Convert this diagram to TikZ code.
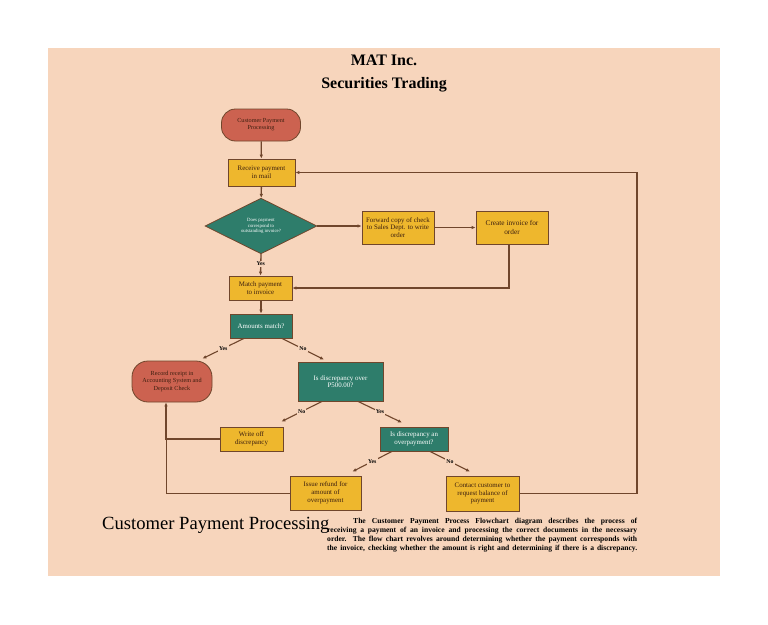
\documentclass[tikz,border=0pt]{standalone}
\usepackage{fontspec}
\setmainfont{Liberation Serif}
\usetikzlibrary{shapes.geometric,arrows.meta,calc}
\definecolor{bg}{RGB}{247,213,188}
\definecolor{yel}{RGB}{238,183,45}
\definecolor{teal2}{RGB}{46,125,107}
\definecolor{redt}{RGB}{204,98,80}
\definecolor{brn}{RGB}{112,70,44}
\definecolor{txt}{RGB}{60,30,15}
\tikzset{
  base/.style={draw=brn, line width=0.8pt, inner sep=1pt, align=center, text=txt},
  proc/.style={base, rectangle, fill=yel, font=\fontsize{6.9}{7.7}\selectfont},
  dec/.style={base, rectangle, fill=teal2, text=white, font=\fontsize{6.9}{7.7}\selectfont},
  term/.style={base, rectangle, fill=redt, font=\fontsize{6.2}{7.2}\selectfont},
  conn/.style={draw=brn, line width=1.3pt, -{Latex[length=4pt,width=3.5pt]}},
  diag/.style={draw=brn, line width=1.1pt, -{Latex[length=4pt,width=3.5pt]}},
  lbl/.style={font=\fontsize{5.8}{6.5}\selectfont\bfseries, fill=bg, inner sep=1.2pt, text=black},
}
\begin{document}
\begin{tikzpicture}[x=1pt,y=-1pt]
\useasboundingbox (0,0) rectangle (768,624);
\fill[bg] (48,48) rectangle (720,576);

\node[font=\fontsize{16}{18}\selectfont\bfseries] (t1) at (384,60) {MAT Inc.};
\node[font=\fontsize{16}{18}\selectfont\bfseries] (t2) at (384,85) {Securities Trading};

\node[term, minimum width=79pt, minimum height=32pt, rounded corners=14pt] (start) at (261,125) {Customer Payment\\Processing};
\node[proc, minimum width=67pt, minimum height=27pt] (recv) at (261.5,172.5) {Receive payment\\in mail};
\node[base, diamond, fill=teal2, text=white, minimum width=112pt, minimum height=50pt, inner sep=0pt, font=\fontsize{4.8}{5.8}\selectfont] (dia) at (261,226) {Does payment\\correspond to\\outstanding invoice?};
\node[proc, minimum width=72pt, minimum height=33pt] (fwd) at (398,227.5) {Forward copy of check\\to Sales Dept. to write\\order};
\node[proc, minimum width=72pt, minimum height=33pt, font=\fontsize{7.3}{8.2}\selectfont] (create) at (512,227.5) {Create invoice for\\order};
\node[proc, minimum width=63pt, minimum height=24pt] (match) at (260.5,288) {Match payment\\to invoice};
\node[dec, minimum width=62pt, minimum height=24pt] (amt) at (261,326) {Amounts match?};
\node[term, minimum width=80pt, minimum height=41pt, rounded corners=16pt] (record) at (172,381.5) {Record receipt in\\Accounting System and\\Deposit Check};
\node[dec, minimum width=85pt, minimum height=39pt] (over) at (340.5,381.5) {Is discrepancy over\\P500.00?};
\node[proc, minimum width=63pt, minimum height=24pt] (write) at (251.5,439) {Write off\\discrepancy};
\node[dec, minimum width=68pt, minimum height=24pt] (overp) at (414,439) {Is discrepancy an\\overpayment?};
\node[proc, minimum width=71pt, minimum height=34pt] (refund) at (325.5,493) {Issue refund for\\amount of\\overpayment};
\node[proc, minimum width=73pt, minimum height=35pt] (contact) at (482.5,493.5) {Contact customer to\\request balance of\\payment};

% connectors
\draw[conn] (start) -- (recv);
\draw[conn] (recv) -- (dia);
\draw[conn] (dia.east) -- (dia.east -| fwd.west);
\draw[conn] (fwd) -- (create);
\draw[conn] (dia.south) -- node[lbl, pos=0.45]{Yes} (match.north);
\draw[conn] ([xshift=-3pt]create.south) |- (match.east);
\draw[conn] (match.south -| amt.north) -- (amt.north);
\draw[diag] ([xshift=-17pt]amt.south) -- node[lbl]{Yes} ($(record.north east)+(-10,-2)$);
\draw[diag] ([xshift=21pt]amt.south) -- node[lbl]{No} ($(over.north)+(-16.5,-2)$);
\draw[diag] ([xshift=-18.5pt]over.south) -- node[lbl]{No} ($(write.north east)+(-2,-5)$);
\draw[diag] ([xshift=17.5pt]over.south) -- node[lbl]{Yes} ($(overp.north)+(-12,-4)$);
\draw[diag] ([xshift=-22pt]overp.south) -- node[lbl]{Yes} ($(refund.north east)+(-9,-4)$);
\draw[diag] ([xshift=16pt]overp.south) -- node[lbl]{No} ($(contact.north)+(-12.5,-4)$);
\coordinate (loopc) at (637,0);
\draw[conn, line width=1.8pt] (contact.east) -- (contact.east -| loopc) -- (recv.east -| loopc) -- (recv.east);
\coordinate (leftc) at (166,0);
\draw[conn, line width=1.8pt] (write.west) -- (write.west -| leftc) -- ([xshift=-6pt]record.south);
\draw[draw=brn, line width=0.8pt] (refund.west) -- (refund.west -| leftc) -- (write.west -| leftc);

\node[font=\fontsize{18.6}{21}\selectfont, anchor=base west, inner sep=0pt] (big) at (102,529) {Customer Payment Processing};

\node[anchor=north west, inner sep=0pt, align=left, font=\fontsize{7.6}{9.1}\selectfont\bfseries] (desc) at (327,518) {%
\hspace*{26pt}\makebox[284pt][s]{The Customer Payment Process Flowchart diagram describes the process of}\\
\makebox[310pt][s]{receiving a payment of an invoice and processing the correct documents in the necessary}\\
\makebox[310pt][s]{order. The flow chart revolves around determining whether the payment corresponds with}\\
\makebox[310pt][s]{the invoice, checking whether the amount is right and determining if there is a discrepancy.}};
\end{tikzpicture}
\end{document}
